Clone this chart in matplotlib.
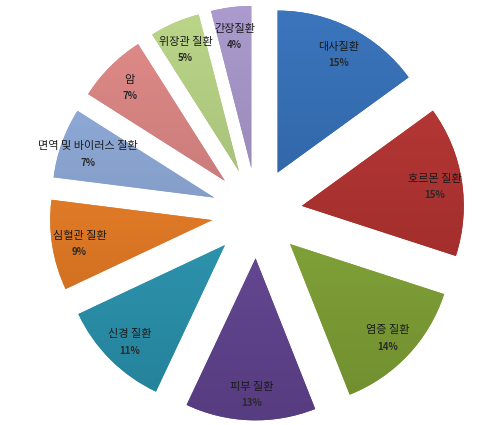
import numpy as np
import matplotlib
matplotlib.use("Agg")
import matplotlib.pyplot as plt
from matplotlib.colors import to_rgb

plt.rcParams['font.family'] = ['Noto Sans CJK KR', 'DejaVu Sans']

# data
labels = ['대사질환', '호르몬 질환', '염증 질환', '피부 질환', '신경 질환',
          '심혈관 질환', '면역 및 바이러스 질환', '암', '위장관 질환', '간장질환']
shares = [15, 15, 14, 13, 11, 9, 7, 7, 5, 4]
colors = ['#2F69B0', '#AE2E2C', '#82A536', '#644594', '#2A96B2',
          '#E67A22', '#88A4D2', '#D47F7D', '#AFCA7D', '#9F8FC2']

fig = plt.figure(figsize=(5, 4.25), dpi=100)
ax = fig.add_axes([0, 0, 1, 1])

explode = [0.28] * len(shares)
wedges, _ = ax.pie(shares, explode=explode, colors=colors, startangle=90,
                   counterclock=False, radius=1.0,
                   wedgeprops=dict(linewidth=0))

# soft vertical gradient inside each wedge, slightly lighter at top
for w, c in zip(wedges, colors):
    base = np.array(to_rgb(c))
    top = np.clip(base + 0.05, 0, 1)
    bot = base * 0.86
    t = np.linspace(0, 1, 64)[:, None]
    grad = top * (1 - t) + bot * t
    img = np.repeat(grad[:, None, :], 2, axis=1)
    cx, cy = w.center
    im = ax.imshow(img, extent=[cx - 1.05, cx + 1.05, cy - 1.05, cy + 1.05],
                   origin='upper', aspect='auto', zorder=w.get_zorder() + 0.1)
    im.set_clip_path(w)

# labels placed inside each wedge
for w, name, v in zip(wedges, labels, shares):
    ang = np.deg2rad((w.theta1 + w.theta2) / 2)
    cx, cy = w.center
    x = cx + 0.83 * np.cos(ang)
    y = cy + 0.83 * np.sin(ang)
    ax.text(x, y + 0.035, name, ha='center', va='center', fontsize=8,
            color='#1a1a1a', zorder=5)
    ax.text(x, y - 0.065, f'{v}%', ha='center', va='center', fontsize=7,
            fontweight='bold', color='#2a2a2a', zorder=5)

ax.set_xlim(-257 / 162, 243 / 162)
ax.set_ylim(-(425 - 213) / 162, 213 / 162)
ax.set_aspect('equal')
ax.axis('off')

fig.savefig('out.png', dpi=100, facecolor='white')
